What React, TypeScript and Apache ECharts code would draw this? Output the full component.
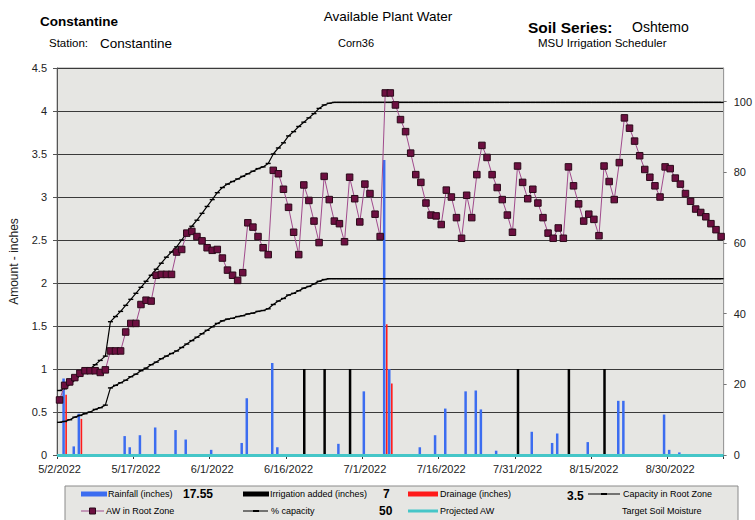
import React, { useEffect, useRef } from 'react';
import * as echarts from 'echarts';

// ---------- DATA ----------
const FIRST_DAY = [2022, 5, 2]; // y, m, d
const NUM_DAYS = 131;

function buildDates(): string[] {
  const out: string[] = [];
  const d = new Date(FIRST_DAY[0], FIRST_DAY[1] - 1, FIRST_DAY[2]);
  for (let i = 0; i < NUM_DAYS; i++) {
    out.push(`${d.getMonth() + 1}/${d.getDate()}/${d.getFullYear()}`);
    d.setDate(d.getDate() + 1);
  }
  return out;
}
const DATES = buildDates();

const RAINFALL: [string, number][] = [
  ['5/3/2022', 0.89], ['5/5/2022', 0.1], ['5/6/2022', 0.48], ['5/15/2022', 0.22],
  ['5/16/2022', 0.09], ['5/18/2022', 0.23], ['5/21/2022', 0.32], ['5/25/2022', 0.29],
  ['5/27/2022', 0.18], ['6/1/2022', 0.06], ['6/7/2022', 0.14], ['6/8/2022', 0.66],
  ['6/13/2022', 1.07], ['6/14/2022', 0.09], ['6/26/2022', 0.13], ['7/1/2022', 0.74],
  ['7/5/2022', 3.43], ['7/6/2022', 1.0], ['7/12/2022', 0.09], ['7/15/2022', 0.23],
  ['7/17/2022', 0.54], ['7/21/2022', 0.74], ['7/23/2022', 0.75], ['7/24/2022', 0.53],
  ['7/27/2022', 0.05], ['8/3/2022', 0.27], ['8/7/2022', 0.14], ['8/8/2022', 0.25],
  ['8/14/2022', 0.15], ['8/20/2022', 0.63], ['8/21/2022', 0.63], ['8/29/2022', 0.47],
  ['8/30/2022', 0.06], ['9/1/2022', 0.03],
];

const IRRIGATION: [string, number][] = [
  ['6/19/2022', 1.0], ['6/23/2022', 1.0], ['6/28/2022', 1.0],
  ['7/31/2022', 1.0], ['8/10/2022', 1.0], ['8/17/2022', 1.0],
];

const DRAINAGE: [string, number][] = [
  ['5/3/2022', 0.7], ['5/6/2022', 0.42], ['7/5/2022', 1.52], ['7/6/2022', 0.83],
];

const AW_ROOT_ZONE: number[] = [
  0.64, 0.81, 0.85, 0.9, 0.95, 0.98, 0.98, 0.98, 0.96, 0.99,
  1.21, 1.21, 1.21, 1.43, 1.53, 1.53, 1.75, 1.8, 1.79, 2.09,
  2.1, 2.1, 2.1, 2.36, 2.39, 2.58, 2.6, 2.54, 2.49, 2.41,
  2.38, 2.39, 2.29, 2.15, 2.09, 2.03, 2.12, 2.7, 2.65, 2.54,
  2.41, 2.33, 3.31, 3.27, 3.09, 2.88, 2.59, 2.33, 3.14, 2.96,
  2.72, 2.47, 3.24, 2.97, 2.72, 2.69, 2.48, 3.23, 2.98, 2.71,
  3.15, 3.04, 2.8, 2.54, 4.21, 4.21, 4.07, 3.9, 3.76, 3.51,
  3.26, 3.17, 2.93, 2.79, 2.78, 2.68, 3.08, 3.0, 2.76, 2.52,
  3.02, 2.76, 3.26, 3.6, 3.46, 3.26, 3.11, 2.97, 2.79, 2.59,
  3.36, 3.17, 2.98, 3.09, 2.93, 2.76, 2.58, 2.52, 2.64, 2.52,
  3.35, 3.13, 2.92, 2.72, 2.8, 2.74, 2.55, 3.36, 3.18, 2.97,
  3.4, 3.92, 3.8, 3.65, 3.48, 3.32, 3.23, 3.13, 3.0, 3.35,
  3.33, 3.22, 3.15, 3.04, 2.95, 2.86, 2.82, 2.77, 2.69, 2.62,
  2.54,
];

const CAPACITY_ROOT_ZONE: number[] = [
  0.75, 0.77, 0.82, 0.87, 0.92, 0.96, 1.0, 1.05, 1.1, 1.15,
  1.55, 1.61, 1.67, 1.74, 1.81, 1.88, 1.95, 2.02, 2.09, 2.16,
  2.23, 2.3, 2.36, 2.42, 2.5, 2.58, 2.66, 2.73, 2.81, 2.89,
  2.97, 3.05, 3.11, 3.15, 3.18, 3.21, 3.24, 3.27, 3.3, 3.33,
  3.35, 3.39, 3.5, 3.57, 3.63, 3.71, 3.76, 3.82, 3.87, 3.92,
  3.97, 4.03, 4.07, 4.09, 4.1, 4.1, 4.1, 4.1, 4.1, 4.1,
  4.1, 4.1, 4.1, 4.1, 4.1, 4.1, 4.1, 4.1, 4.1, 4.1,
  4.1, 4.1, 4.1, 4.1, 4.1, 4.1, 4.1, 4.1, 4.1, 4.1,
  4.1, 4.1, 4.1, 4.1, 4.1, 4.1, 4.1, 4.1, 4.1, 4.1,
  4.1, 4.1, 4.1, 4.1, 4.1, 4.1, 4.1, 4.1, 4.1, 4.1,
  4.1, 4.1, 4.1, 4.1, 4.1, 4.1, 4.1, 4.1, 4.1, 4.1,
  4.1, 4.1, 4.1, 4.1, 4.1, 4.1, 4.1, 4.1, 4.1, 4.1,
  4.1, 4.1, 4.1, 4.1, 4.1, 4.1, 4.1, 4.1, 4.1, 4.1,
  4.1,
];

const PCT_CAPACITY: number[] = [
  0.38, 0.39, 0.41, 0.44, 0.46, 0.48, 0.5, 0.53, 0.55, 0.58,
  0.78, 0.81, 0.84, 0.87, 0.91, 0.94, 0.98, 1.01, 1.05, 1.08,
  1.12, 1.15, 1.18, 1.21, 1.25, 1.29, 1.33, 1.37, 1.41, 1.45,
  1.49, 1.53, 1.56, 1.58, 1.59, 1.61, 1.62, 1.64, 1.65, 1.67,
  1.68, 1.7, 1.75, 1.79, 1.82, 1.86, 1.88, 1.91, 1.94, 1.96,
  1.99, 2.02, 2.04, 2.05, 2.05, 2.05, 2.05, 2.05, 2.05, 2.05,
  2.05, 2.05, 2.05, 2.05, 2.05, 2.05, 2.05, 2.05, 2.05, 2.05,
  2.05, 2.05, 2.05, 2.05, 2.05, 2.05, 2.05, 2.05, 2.05, 2.05,
  2.05, 2.05, 2.05, 2.05, 2.05, 2.05, 2.05, 2.05, 2.05, 2.05,
  2.05, 2.05, 2.05, 2.05, 2.05, 2.05, 2.05, 2.05, 2.05, 2.05,
  2.05, 2.05, 2.05, 2.05, 2.05, 2.05, 2.05, 2.05, 2.05, 2.05,
  2.05, 2.05, 2.05, 2.05, 2.05, 2.05, 2.05, 2.05, 2.05, 2.05,
  2.05, 2.05, 2.05, 2.05, 2.05, 2.05, 2.05, 2.05, 2.05, 2.05,
  2.05,
];

const PROJECTED_AW_LEVEL = 0;
const LEFT_TICKS = { min: 0, max: 4.5, interval: 0.5 };
const RIGHT_TICKS = { min: 0, max: 109.5, interval: 20 };

const TOTAL_RAIN = '17.55';
const TOTAL_IRRIGATION = '7';
const TOTAL_DRAINAGE = '3.5';
const TARGET_PCT = '50';

function toDaily(events: [string, number][]): (number | null)[] {
  const arr: (number | null)[] = DATES.map(() => null);
  events.forEach(([d, v]) => {
    const idx = DATES.indexOf(d);
    if (idx >= 0) arr[idx] = v;
  });
  return arr;
}

// ---------- STYLE ----------
const FONT = "'Liberation Sans', Arial, sans-serif";
const PLOT_BG = '#e6e6e3';

export default function App() {
  const ref = useRef<HTMLDivElement>(null);

  useEffect(() => {
    if (!ref.current) return;
    const chart = echarts.init(ref.current, undefined, { renderer: 'svg' });

    const txt = (x: number, y: number, text: string, size: number, weight = 'normal', align = 'left') => ({
      type: 'text',
      x,
      y,
      z: 20,
      style: {
        text,
        fontSize: size,
        fontWeight: weight,
        fontFamily: FONT,
        fill: '#000',
        align,
        verticalAlign: 'middle',
      },
    });

    const LEG_Y1 = 494;
    const LEG_Y2 = 511;

    const graphic: any[] = [
      // titles
      txt(40, 21, 'Constantine', 13.5, 'bold'),
      txt(49, 43, 'Station:', 11.5),
      txt(100, 43, 'Constantine', 13.5),
      txt(388, 16, 'Available Plant Water', 13.5, 'normal', 'center'),
      txt(338, 43, 'Corn36', 11),
      txt(528, 27, 'Soil Series:', 15.5, 'bold'),
      txt(632, 27, 'Oshtemo', 14),
      txt(538, 43, 'MSU Irrigation Scheduler', 11.5),
      // legend box
      {
        type: 'rect',
        z: 10,
        shape: { x: 65, y: 486, width: 673, height: 40 },
        style: { fill: PLOT_BG, stroke: '#8a8a8a', lineWidth: 1 },
      },
      // row 1
      { type: 'rect', z: 20, shape: { x: 81, y: LEG_Y1 - 2.5, width: 26, height: 5 }, style: { fill: '#3c6df0' } },
      txt(108, LEG_Y1, 'Rainfall (inches)', 9),
      txt(183, LEG_Y1, TOTAL_RAIN, 12, 'bold'),
      { type: 'rect', z: 20, shape: { x: 243, y: LEG_Y1 - 2.5, width: 26, height: 5 }, style: { fill: '#000' } },
      txt(270, LEG_Y1, 'Irrigation added (inches)', 9),
      txt(383, LEG_Y1, TOTAL_IRRIGATION, 12, 'bold'),
      { type: 'rect', z: 20, shape: { x: 408, y: LEG_Y1 - 2.5, width: 30, height: 5 }, style: { fill: '#ff1a1a' } },
      txt(440, LEG_Y1, 'Drainage (inches)', 9),
      txt(567, LEG_Y1 + 2, TOTAL_DRAINAGE, 12, 'bold'),
      { type: 'line', z: 20, shape: { x1: 588, y1: LEG_Y1, x2: 620, y2: LEG_Y1 }, style: { stroke: '#000', lineWidth: 1 } },
      { type: 'rect', z: 21, shape: { x: 601, y: LEG_Y1 - 1, width: 6, height: 2 }, style: { fill: '#000' } },
      txt(623, LEG_Y1, 'Capacity in Root Zone', 9),
      // row 2
      { type: 'line', z: 20, shape: { x1: 81, y1: LEG_Y2, x2: 104, y2: LEG_Y2 }, style: { stroke: '#a04a8c', lineWidth: 1 } },
      { type: 'rect', z: 21, shape: { x: 89.5, y: LEG_Y2 - 3, width: 6, height: 6 }, style: { fill: '#6d0f40', stroke: '#2b0a1a', lineWidth: 1 } },
      txt(106, LEG_Y2, 'AW in Root Zone', 9),
      { type: 'line', z: 20, shape: { x1: 243, y1: LEG_Y2, x2: 268, y2: LEG_Y2 }, style: { stroke: '#000', lineWidth: 1 } },
      { type: 'rect', z: 21, shape: { x: 253, y: LEG_Y2 - 1, width: 6, height: 2 }, style: { fill: '#000' } },
      txt(271, LEG_Y2, '% capacity', 9),
      txt(379, LEG_Y2, TARGET_PCT, 12, 'bold'),
      { type: 'rect', z: 20, shape: { x: 408, y: LEG_Y2 - 1.5, width: 30, height: 3 }, style: { fill: '#45c6c8' } },
      txt(440, LEG_Y2, 'Projected AW', 9),
      txt(622, LEG_Y2, 'Target Soil Moisture', 9),
    ];

    const lineDash = {
      type: 'line',
      yAxisIndex: 0,
      symbol: 'rect',
      symbolSize: [5, 1.4],
      showSymbol: true,
      showAllSymbol: true,
      itemStyle: { color: '#000' },
      lineStyle: { color: '#000', width: 1.2 },
      z: 4,
    };

    chart.setOption({
      animation: false,
      textStyle: { fontFamily: FONT },
      grid: {
        left: 54,
        right: 28,
        top: 68,
        bottom: 65,
        show: true,
        backgroundColor: PLOT_BG,
        borderColor: '#9a9a9a',
        borderWidth: 1,
      },
      graphic,
      xAxis: {
        type: 'category',
        data: DATES,
        boundaryGap: true,
        axisLine: { show: true, lineStyle: { color: '#888' } },
        axisTick: { show: true, interval: 14, length: 4, lineStyle: { color: '#333' } },
        axisLabel: { interval: 14, fontSize: 11, color: '#222', fontFamily: FONT, margin: 8 },
        splitLine: { show: false },
      },
      yAxis: [
        {
          type: 'value',
          min: LEFT_TICKS.min,
          max: LEFT_TICKS.max,
          interval: LEFT_TICKS.interval,
          name: 'Amount - inches',
          nameLocation: 'middle',
          nameGap: 37,
          nameTextStyle: { fontSize: 12, color: '#222', fontFamily: FONT },
          axisLine: { show: true, lineStyle: { color: '#555' } },
          axisTick: { show: true, length: 4, lineStyle: { color: '#555' } },
          axisLabel: { fontSize: 11, color: '#222', fontFamily: FONT, margin: 10 },
          splitLine: { show: true, lineStyle: { color: '#3a3a3a', width: 1 } },
        },
        {
          type: 'value',
          position: 'right',
          min: RIGHT_TICKS.min,
          max: RIGHT_TICKS.max,
          interval: RIGHT_TICKS.interval,
          axisLine: { show: true, lineStyle: { color: '#9a9a9a' } },
          axisTick: { show: true, length: 3, lineStyle: { color: '#777' } },
          axisLabel: { fontSize: 11, color: '#222', fontFamily: FONT, margin: 10, showMaxLabel: false },
          splitLine: { show: false },
        },
      ],
      series: [
        {
          name: 'Rainfall (inches)',
          type: 'bar',
          yAxisIndex: 0,
          data: toDaily(RAINFALL),
          barWidth: 2.5,
          barGap: '-40%',
          itemStyle: { color: '#3c6df0' },
          z: 2,
        },
        {
          name: 'Irrigation added (inches)',
          type: 'bar',
          yAxisIndex: 0,
          data: toDaily(IRRIGATION),
          barWidth: 2.5,
          barGap: '-40%',
          itemStyle: { color: '#000' },
          z: 2,
        },
        {
          name: 'Drainage (inches)',
          type: 'bar',
          yAxisIndex: 0,
          data: toDaily(DRAINAGE),
          barWidth: 1.6,
          barGap: '-40%',
          itemStyle: { color: '#ff1a1a' },
          z: 2,
          markLine: {
            silent: true,
            symbol: 'none',
            label: { show: false },
            lineStyle: { color: '#45c6c8', width: 3, type: 'solid' },
            data: [{ yAxis: PROJECTED_AW_LEVEL }],
            z: 6,
          },
        },
        { ...lineDash, name: 'Capacity in Root Zone', data: CAPACITY_ROOT_ZONE },
        { ...lineDash, name: '% capacity', data: PCT_CAPACITY },
        {
          name: 'AW in Root Zone',
          type: 'line',
          yAxisIndex: 0,
          data: AW_ROOT_ZONE,
          symbol: 'rect',
          symbolSize: 6.5,
          showSymbol: true,
          showAllSymbol: true,
          lineStyle: { color: '#a04a8c', width: 1 },
          itemStyle: { color: '#6d0f40', borderColor: '#2b0a1a', borderWidth: 1 },
          z: 5,
        },
      ],
    });

    return () => chart.dispose();
  }, []);

  return <div ref={ref} style={{ width: 755, height: 520, position: 'absolute', left: 0, top: 0 }} />;
}
